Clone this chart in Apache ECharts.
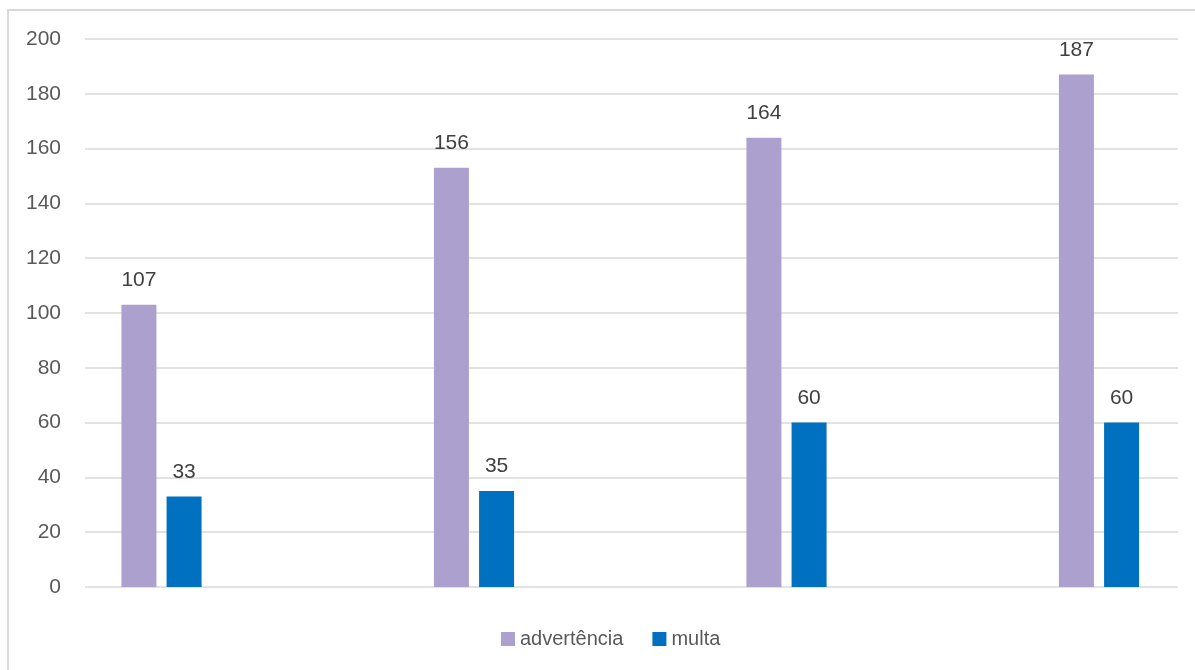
<!DOCTYPE html>
<html>
<head>
<meta charset="utf-8">
<script src="https://cdn.jsdelivr.net/npm/echarts@6/dist/echarts.min.js"></script>
<style>
  html, body { margin: 0; padding: 0; background: #fff; }
  #main { width: 1195px; height: 670px; }
</style>
</head>
<body>
<div id="main"></div>
<script>
// dados
const categorias = ['1', '2', '3', '4'];
const advertencia = [103, 153, 164, 187];
const advertenciaRotulos = ['107', '156', '164', '187'];
const multa = [33, 35, 60, 60];
const multaRotulos = ['33', '35', '60', '60'];
const yTicks = { min: 0, max: 200, interval: 20 };

const fonte = '"Liberation Sans", Arial, sans-serif';

// as categorias ficam num eixo de valores para reproduzir o espaçamento do original
const xMin = -0.2448, xMax = 3.2528;
const pares = (vals) => vals.map((v, i) => [categorias.indexOf(categorias[i]), v]);

let chart = echarts.init(document.getElementById('main'));
let option = {
    animation: false,
    textStyle: { fontFamily: fonte },
    graphic: [{
        type: 'rect',
        shape: { x: 8, y: 10, width: 1300, height: 800 },
        style: { fill: 'none', stroke: '#D9D9D9', lineWidth: 2 },
        silent: true
    }],
    legend: {
        bottom: 16,
        left: 496,
        itemWidth: 14,
        itemHeight: 14,
        itemGap: 29,
        icon: 'rect',
        textStyle: { color: '#595959', fontSize: 20, fontFamily: fonte },
        data: ['advertência', 'multa']
    },
    grid: { left: 85, right: 17, top: 39, bottom: 83, containLabel: false },
    xAxis: {
        type: 'value', min: xMin, max: xMax,
        axisLine: { show: false }, axisTick: { show: false },
        axisLabel: { show: false }, splitLine: { show: false }
    },
    yAxis: {
        type: 'value', min: yTicks.min, max: yTicks.max, interval: yTicks.interval,
        axisLine: { show: false }, axisTick: { show: false },
        axisLabel: { color: '#595959', fontSize: 21, margin: 24, fontFamily: fonte },
        splitLine: { lineStyle: { color: '#D9D9D9', width: 1.5 } }
    },
    series: [
        {
            name: 'advertência',
            type: 'bar',
            data: pares(advertencia),
            barWidth: 35,
            barGap: '29%',
            itemStyle: { color: '#ABA0CE' },
            label: {
                show: true, position: 'top', distance: 14,
                color: '#404040', fontSize: 21, fontFamily: fonte,
                formatter: p => advertenciaRotulos[p.dataIndex]
            }
        },
        {
            name: 'multa',
            type: 'bar',
            data: pares(multa),
            barWidth: 35,
            barGap: '29%',
            itemStyle: { color: '#0070C0' },
            label: {
                show: true, position: 'top', distance: 14,
                color: '#404040', fontSize: 21, fontFamily: fonte,
                formatter: p => multaRotulos[p.dataIndex]
            }
        }
    ]
};
chart.setOption(option);
</script>
</body>
</html>
